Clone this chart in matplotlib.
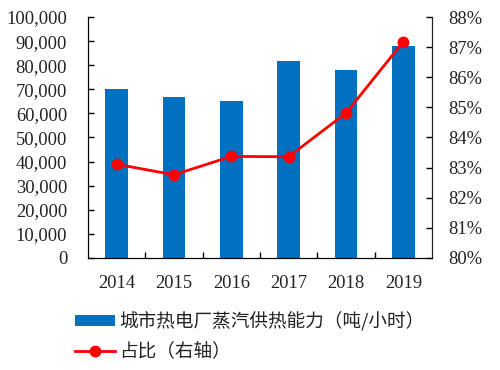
import matplotlib.pyplot as plt
import numpy as np
from matplotlib.ticker import FuncFormatter, FixedLocator

years = ['2014', '2015', '2016', '2017', '2018', '2019']
capacity = [70300, 66700, 65300, 81700, 78100, 87800]
share = [83.11, 82.76, 83.37, 83.36, 84.81, 87.18]

bar_label = '城市热电厂蒸汽供热能力（吨/小时）'
line_label = '占比（右轴）'

serif = 'Liberation Serif'
cjk = ['Noto Sans CJK SC', 'DejaVu Sans']
tick_size = 13.3

fig = plt.figure(figsize=(5.0, 3.7), dpi=100)
ax = fig.add_axes([0.176, 0.303, 0.688, 0.651])
x = np.arange(len(years))

ax.bar(x, capacity, width=0.4, color='#0070C0', label=bar_label, zorder=2)
ax.set_xlim(-0.5, len(years) - 0.5)
ax.set_ylim(0, 100000)
ax.set_yticks(np.arange(0, 100001, 10000))
ax.yaxis.set_major_formatter(FuncFormatter(lambda v, p: f'{int(v):,}'))
ax.set_xticks(x)
ax.set_xticklabels(years)
ax.xaxis.set_minor_locator(FixedLocator(np.arange(0.5, len(years) - 1, 1)))
ax.tick_params(axis='x', which='major', length=0, pad=12)
ax.tick_params(axis='x', which='minor', direction='in', length=4, width=1)
ax.tick_params(axis='y', direction='in', length=4, width=1, pad=15)
for lab in ax.get_xticklabels() + ax.get_yticklabels():
    lab.set_fontfamily(serif)
    lab.set_fontsize(tick_size)
    lab.set_color('#222222')
ax.spines['top'].set_visible(False)
for s in ('left', 'bottom', 'right'):
    ax.spines[s].set_color('#222222')

ax2 = ax.twinx()
ax2.plot(x, share, color='#FF0000', lw=2, marker='o', ms=7.5,
         label=line_label, zorder=3)
ax2.set_ylim(80, 88)
ax2.set_yticks(np.arange(80, 88.1, 1))
ax2.yaxis.set_major_formatter(FuncFormatter(lambda v, p: f'{int(v)}%'))
ax2.tick_params(axis='y', direction='in', length=4, width=1, pad=12)
for lab in ax2.get_yticklabels():
    lab.set_fontfamily(serif)
    lab.set_fontsize(tick_size)
    lab.set_color('#222222')
ax2.spines['top'].set_visible(False)
ax2.spines['right'].set_color('#222222')

h1, l1 = ax.get_legend_handles_labels()
h2, l2 = ax2.get_legend_handles_labels()
fig.legend(h1 + h2, l1 + l2, loc='upper left', bbox_to_anchor=(0.135, 0.178),
           frameon=False, prop={'family': cjk, 'size': 13.4},
           handlelength=2.15, handleheight=0.55, handletextpad=0.25,
           labelspacing=0.67, borderaxespad=0, labelcolor='#222222')

fig.savefig('out.png', dpi=100)
